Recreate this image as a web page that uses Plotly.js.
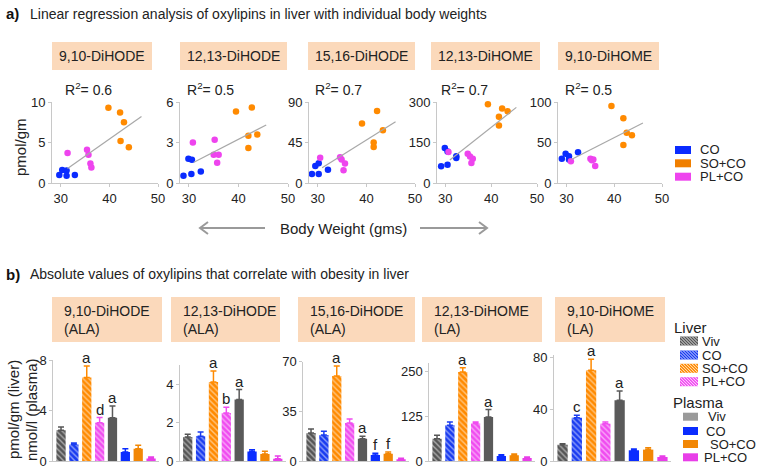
<!DOCTYPE html>
<html>
<head>
<meta charset="utf-8">
<script src="https://cdn.plot.ly/plotly-3.0.1.min.js"></script>
<style>
  html, body { margin: 0; padding: 0; background: #fff; }
  #chart { width: 760px; height: 471px; }
</style>
</head>
<body>
<div id="chart"></div>
<script>
const W = 760, H = 471;
const px = x => x / W;
const py = y => 1 - y / H;
const FONT = 'Liberation Sans, Arial, sans-serif';

// ---- a) body weight vs oxylipin (liver) ----
const scatterNames = ['9,10-DiHODE', '12,13-DiHODE', '15,16-DiHODE', '12,13-DiHOME', '9,10-DiHOME'];
const rSquared = ['0.6', '0.5', '0.7', '0.7', '0.5'];
const scatterYMax = [10, 6, 90, 300, 100];
const weightTicks = [30, 40, 50];

const coWeight = [[29.7, 30.3, 31.2, 31.2, 32.9], [28.9, 29.9, 30.6, 30.5, 32.4], [28.8, 29.5, 30.2, 30.2, 32.1], [29.1, 29.9, 30.5, 30.5, 32.4, 32.4], [29.0, 29.8, 30.5, 30.5, 32.4]];
const coLevel = [[1.0, 1.6, 1.55, 0.9, 1.0], [0.54, 1.79, 1.72, 0.66, 0.86], [10, 19, 22, 10, 14.6], [62, 130, 117, 68, 93, 99], [30, 36, 33, 29, 38]];
const soWeight = [[39.8, 42.2, 43.0, 42.3, 44.0], [39.5, 42.7, 42.0, 43.8, 42.0], [39.1, 42.2, 41.5, 41.5, 43.4], [39.3, 42.4, 43.6, 41.7, 41.7], [39.4, 41.9, 42.6, 43.7, 41.9]];
const soLevel = [[9.3, 8.7, 7.5, 5.2, 4.4], [5.3, 5.6, 3.5, 3.6, 2.6], [66, 80, 45, 40, 58.6], [292, 276, 266, 245, 213], [95, 80, 62, 59, 47]];
const plWeight = [[31.4, 35.4, 35.7, 36.1, 36.3], [30.8, 35.2, 35.0, 36.0, 35.7], [30.5, 34.6, 34.9, 35.6, 35.3], [30.7, 34.9, 35.4, 36.0, 35.7], [30.9, 35.0, 35.6, 35.3, 36.0]];
const plLevel = [[3.7, 4.1, 3.5, 2.4, 1.9], [3.0, 3.2, 2.1, 2.1, 1.5], [28, 28.7, 26, 21.8, 14.2], [115, 108, 98, 90, 74], [27, 30, 29, 28, 21]];
// regression line ends
const fitWeight = [[31.4, 46.6], [31.0, 45.6], [30.9, 46.0], [31.0, 45.5], [31.0, 46.0]];
const fitLevel = [[1.8, 8.2], [1.54, 4.3], [17, 68], [85, 280], [29, 74]];

const scatterGroups = ['CO', 'SO+CO', 'PL+CO'];
const scatterColors = ['#0a2bff', '#ff8a00', '#ee44ee'];
const scatterLegendColors = ['#0a2bff', '#f07f00', '#ee44ee'];

// ---- b) absolute values (liver hatched, plasma solid) ----
const barPanels = ['9,10-DiHODE<br>(ALA)', '12,13-DiHODE<br>(ALA)', '15,16-DiHODE<br>(ALA)', '12,13-DiHOME<br>(LA)', '9,10-DiHOME<br>(LA)'];
const barGroups = ['Viv', 'CO', 'SO+CO', 'PL+CO', 'Viv', 'CO', 'SO+CO', 'PL+CO'];
const barMeans = [
  [2.44, 1.3, 6.62, 3.02, 3.42, 0.72, 0.98, 0.19],
  [1.25, 1.29, 4.12, 2.5, 3.2, 0.49, 0.37, 0.12],
  [19.8, 18.4, 60, 26.8, 15.6, 4.2, 5.1, 1.2],
  [62.7, 100, 250, 105, 123.6, 14, 16, 8.4],
  [12.6, 33.5, 70.2, 28.9, 47, 8.3, 8.8, 3.1]
];
const barErrors = [
  [0.26, 0.13, 0.9, 0.42, 0.93, 0.26, 0.26, 0.13],
  [0.14, 0.22, 0.57, 0.3, 0.52, 0.1, 0.14, 0.14],
  [2.8, 2.6, 7, 2.8, 1.9, 1.2, 1.2, 0.8],
  [9.4, 9.4, 12, 4.7, 20.6, 3.7, 3.7, 2.8],
  [0.8, 1.8, 8.5, 1.3, 7.2, 1, 1.5, 0.8]
];
const barLetters = [
  ['', '', 'a', 'd', 'a', '', '', ''],
  ['', '', 'a', 'b', 'a', '', '', ''],
  ['', '', 'a', '', 'a', 'f', 'f', ''],
  ['', '', 'a', '', 'a', '', '', ''],
  ['', 'c', 'a', '', 'a', '', '', '']
];
const barTicks = [[0, 4, 8], [0, 2, 4], [0, 35, 70], [0, 125, 250], [0, 40, 80]];
const barYMax = [8, 5, 70, 275, 82];
const barColors = ['#555555', '#1a3cf0', '#ff8a00', '#f04cf0', '#5a5a5a', '#0a2cff', '#f28705', '#e83ee8'];
const legendBarColors = ['#555555', '#1a3cf0', '#ff8a00', '#f04cf0', '#9a9a9a', '#0a2cff', '#f28705', '#e83ee8'];

// ---- geometry (pixels) ----
const scatterX = [[52, 158], [180, 288], [309, 415], [437, 537], [558, 662]];
const scatterY = [102, 183];
const barX = [[53.3, 158.8], [180, 285.5], [303.3, 408.8], [429.3, 534.8], [554, 671]];
const barTopPx = [360, 365, 361.7, 363, 355];
const barBottomPx = 461;
const topBoxes = [[52, 152], [180, 287], [308, 415], [431, 540], [558, 659]];
const bottomBoxes = [[52, 162], [171, 280], [298, 415], [422, 542], [555, 665]];
const rLabelX = [63, 185, 313, 439, 563];

const data = [];
const layout = {
  width: W, height: H,
  margin: { l: 0, r: 0, t: 0, b: 0 },
  paper_bgcolor: '#fff', plot_bgcolor: 'rgba(0,0,0,0)',
  showlegend: false,
  barmode: 'overlay',
  font: { family: FONT, size: 13, color: '#222' },
  shapes: [],
  annotations: []
};

const axisStyle = {
  showline: true, linecolor: '#c8c8c8', linewidth: 1,
  showgrid: false, zeroline: false,
  ticks: 'outside', ticklen: 3, tickcolor: '#c8c8c8',
  tickfont: { family: FONT, size: 13, color: '#222' },
  fixedrange: true
};

function addText(text, x, y, opts) {
  layout.annotations.push(Object.assign({
    text: text, x: px(x), y: py(y), xref: 'paper', yref: 'paper',
    showarrow: false, xanchor: 'left', yanchor: 'middle',
    font: { family: FONT, size: 14, color: '#222' }
  }, opts || {}));
}

function addRect(x0, y0, x1, y1, color) {
  layout.shapes.push({
    type: 'rect', xref: 'paper', yref: 'paper', layer: 'below',
    x0: px(x0), x1: px(x1), y0: py(y1), y1: py(y0),
    fillcolor: color, line: { width: 0 }
  });
}

// white "\\" stripes over a legend swatch
function hatchRect(x0, y0, x1, y1) {
  const w = x1 - x0, h = y1 - y0, step = 3;
  for (let d = -h; d < w; d += step) {
    const t0 = Math.max(0, -d), t1 = Math.min(h, w - d);
    if (t1 <= t0) continue;
    layout.shapes.push({
      type: 'line', xref: 'paper', yref: 'paper',
      x0: px(x0 + d + t0), y0: py(y0 + t0), x1: px(x0 + d + t1), y1: py(y0 + t1),
      line: { color: 'rgba(255,255,255,0.85)', width: 1 }
    });
  }
}

// ---- scatter panels ----
const groupWeights = [coWeight, soWeight, plWeight];
const groupLevels = [coLevel, soLevel, plLevel];
scatterNames.forEach((name, p) => {
  const k = p + 1;
  const xa = k === 1 ? 'x' : 'x' + k;
  const ya = k === 1 ? 'y' : 'y' + k;
  groupWeights.forEach((gw, g) => {
    data.push({
      type: 'scatter', mode: 'markers', x: gw[p], y: groupLevels[g][p],
      xaxis: xa, yaxis: ya, name: scatterGroups[g], cliponaxis: false,
      marker: { color: scatterColors[g], size: 6.5 }
    });
  });
  data.push({
    type: 'scatter', mode: 'lines', x: fitWeight[p], y: fitLevel[p],
    xaxis: xa, yaxis: ya, line: { color: '#a8a8a8', width: 1.2 }
  });
  layout['xaxis' + (k === 1 ? '' : k)] = Object.assign({}, axisStyle, {
    domain: [px(scatterX[p][0]), px(scatterX[p][1])], anchor: ya,
    range: [28.2, 50], tickvals: weightTicks
  });
  layout['yaxis' + (k === 1 ? '' : k)] = Object.assign({}, axisStyle, {
    domain: [py(scatterY[1]), py(scatterY[0])], anchor: xa,
    range: [0, scatterYMax[p]], tickvals: [0, scatterYMax[p] / 2, scatterYMax[p]]
  });
  addRect(topBoxes[p][0], 42, topBoxes[p][1], 70, '#fbd9bb');
  addText(name, (topBoxes[p][0] + topBoxes[p][1]) / 2, 56, { xanchor: 'center' });
  addText('R<sup>2</sup>= ' + rSquared[p], rLabelX[p], 89);
});

// ---- bar panels ----
barPanels.forEach((name, p) => {
  const k = p + 6;
  const xa = 'x' + k, ya = 'y' + k;
  barGroups.forEach((grp, i) => {
    const liver = i < 4;
    data.push({
      type: 'bar', x: [i], y: [barMeans[p][i]], width: 0.72,
      xaxis: xa, yaxis: ya, name: grp,
      marker: {
        color: barColors[i], line: { width: 0 },
        pattern: liver
          ? { shape: '\\', fillmode: 'overlay', fgcolor: '#ffffff', size: 4, solidity: 0.35 }
          : { shape: '' }
      },
      error_y: {
        type: 'data', symmetric: false, array: [barErrors[p][i]], arrayminus: [0],
        color: barColors[i], thickness: 1.5, width: 3
      }
    });
    if (barLetters[p][i]) {
      layout.annotations.push({
        text: barLetters[p][i], x: i, y: barMeans[p][i] + barErrors[p][i],
        xref: xa, yref: ya, showarrow: false, yanchor: 'bottom', yshift: -2,
        font: { family: FONT, size: 15, color: '#222' }
      });
    }
  });
  layout['xaxis' + k] = Object.assign({}, axisStyle, {
    domain: [px(barX[p][0]), px(barX[p][1])], anchor: ya,
    range: [-0.6, 7.6], showticklabels: false, ticks: ''
  });
  layout['yaxis' + k] = Object.assign({}, axisStyle, {
    domain: [py(barBottomPx), py(barTopPx[p])], anchor: xa,
    range: [0, barYMax[p]], tickvals: barTicks[p]
  });
  addRect(bottomBoxes[p][0], 297, bottomBoxes[p][1], 342, '#fbd9bb');
  addText(name, bottomBoxes[p][0] + 10, 320, { align: 'left' });
});

// ---- titles ----
const bigFont = { family: FONT, size: 15, color: '#222' };
addText('<b>a)</b>', 4, 14, { font: { family: FONT, size: 15, color: '#111' } });
addText('Linear regression analysis of oxylipins in liver with individual body weights', 28, 14);
addText('<b>b)</b>', 4, 274, { font: { family: FONT, size: 15, color: '#111' } });
addText('Absolute values of oxylipins that correlate with obesity in liver', 28, 274);
addText('pmol/gm', 21, 147, { xanchor: 'center', textangle: -90, font: bigFont });
addText('pmol/gm (liver)', 13, 410, { xanchor: 'center', textangle: -90, font: bigFont });
addText('nmol/l (plasma)', 31, 410, { xanchor: 'center', textangle: -90, font: bigFont });
addText('Body Weight (gms)', 343, 228, { xanchor: 'center', font: bigFont });

// arrows around the x title
const arrowColor = '#9a9a9a';
[[265, 200], [420, 487]].forEach(([from, to]) => {
  const dir = to > from ? -1 : 1;
  layout.shapes.push({
    type: 'path', xref: 'paper', yref: 'paper',
    path: `M ${px(from)} ${py(228)} L ${px(to)} ${py(228)} M ${px(to + dir * 8)} ${py(222)} L ${px(to)} ${py(228)} L ${px(to + dir * 8)} ${py(234)}`,
    line: { color: arrowColor, width: 2 }
  });
});

// ---- legend (scatter) ----
const legendFont = { family: FONT, size: 13, color: '#222' };
const topLegendY = [150, 163.3, 176.7];
scatterGroups.forEach((g, i) => {
  addRect(675, topLegendY[i] - 4, 691, topLegendY[i] + 4, scatterLegendColors[i]);
  addText(g, 698, topLegendY[i], { font: legendFont });
});

// ---- legend (bars) ----
addText('Liver', 672, 327, { font: bigFont });
addText('Plasma', 671, 402, { font: bigFont });
const liverLegendY = [341, 355, 368.3, 381.7];
const plasmaLegendY = [416.7, 431, 444, 457.3];
const plasmaTextX = [706, 704, 708, 702];
barGroups.forEach((g, i) => {
  if (i < 4) {
    const y = liverLegendY[i];
    addRect(680, y - 4.5, 698, y + 4.5, legendBarColors[i]);
    hatchRect(680, y - 4.5, 698, y + 4.5);
    addText(g, 700, y, { font: legendFont });
  } else {
    const y = plasmaLegendY[i - 4];
    addRect(683, y - 4, 698, y + 4, legendBarColors[i]);
    addText(g, plasmaTextX[i - 4], y, { font: legendFont });
  }
});

Plotly.newPlot('chart', data, layout, { staticPlot: true, displayModeBar: false });
</script>
</body>
</html>
